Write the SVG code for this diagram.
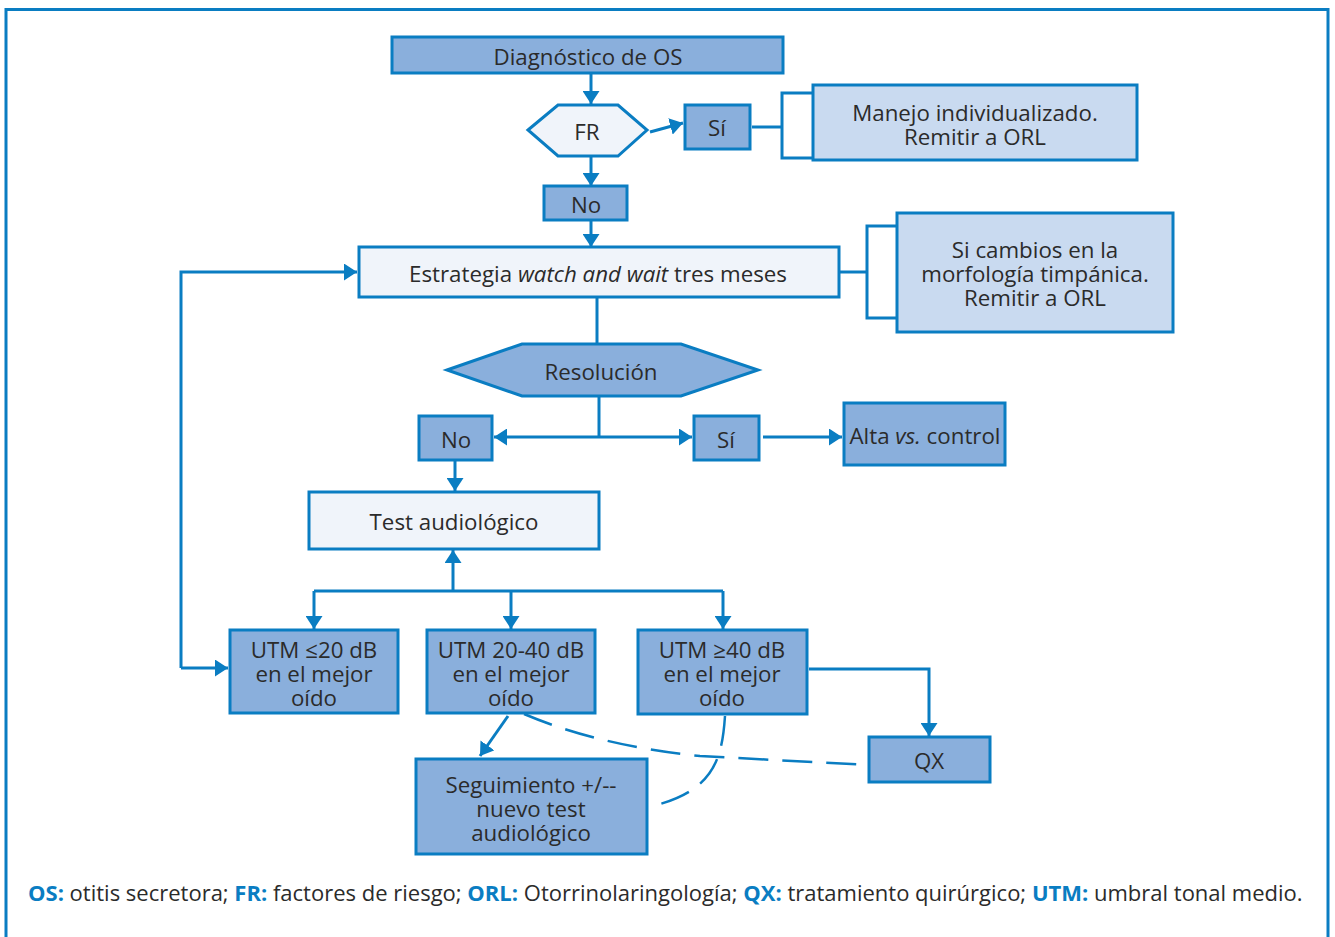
<svg xmlns="http://www.w3.org/2000/svg" width="1335" height="937" viewBox="0 0 1335 937">
<defs>
<style>
.dark{fill:#8aafdc;stroke:#0a7dc2;stroke-width:3}
.light{fill:#c9daf0;stroke:#0a7dc2;stroke-width:3}
.pale{fill:#f0f4fa;stroke:#0a7dc2;stroke-width:3}
.ln{fill:none;stroke:#0a7dc2;stroke-width:3}
.dash{fill:none;stroke:#0a7dc2;stroke-width:2.5;stroke-dasharray:30 14}
text{font-family:"Open Sans","Noto Sans",sans-serif;font-size:22.3px;fill:#2b2b2b;text-anchor:middle;dominant-baseline:central}
.leg{text-anchor:start;font-size:22px}
.b{fill:#0a7dc2;font-weight:bold}
</style>
<marker id="ah" markerUnits="userSpaceOnUse" markerWidth="13" markerHeight="17" refX="13" refY="8.5" orient="auto" viewBox="0 0 13 17">
<path d="M0,0 L13,8.5 L0,17 z" fill="#0a7dc2"/>
</marker>
</defs>
<rect x="6" y="9.5" width="1322" height="960" fill="none" stroke="#0a7dc2" stroke-width="3"/>
<g id="connectors">
<path class="ln" d="M591,74 V104" marker-end="url(#ah)"/>
<path class="ln" d="M650,132 L683,123" marker-end="url(#ah)"/>
<path class="ln" d="M752,127 H782"/>
<path class="ln" d="M813,93 H782 V158 H813"/>
<path class="ln" d="M591,156 V186" marker-end="url(#ah)"/>
<path class="ln" d="M591,220 V247" marker-end="url(#ah)"/>
<path class="ln" d="M839,272 H867"/>
<path class="ln" d="M897,226 H867 V318 H897"/>
<path class="ln" d="M597,297 V344"/>
<path class="ln" d="M599,397 V437"/>
<path class="ln" d="M599,437 H494" marker-end="url(#ah)"/>
<path class="ln" d="M599,437 H692" marker-end="url(#ah)"/>
<path class="ln" d="M763,437 H842" marker-end="url(#ah)"/>
<path class="ln" d="M455,460 V491" marker-end="url(#ah)"/>
<path class="ln" d="M453,591 V550" marker-end="url(#ah)"/>
<path class="ln" d="M314,591 H723"/>
<path class="ln" d="M314,591 V629" marker-end="url(#ah)"/>
<path class="ln" d="M511,591 V629" marker-end="url(#ah)"/>
<path class="ln" d="M723,591 V629" marker-end="url(#ah)"/>
<path class="ln" d="M809,669 H929 V736" marker-end="url(#ah)"/>
<path class="ln" d="M181,668 H228" marker-end="url(#ah)"/>
<path class="ln" d="M181,668 V272 H357" marker-end="url(#ah)"/>
<path class="ln" d="M508,716 L480,756" marker-end="url(#ah)"/>
<path class="dash" d="M524,714 Q600,746 700,756 L868,765"/>
<path class="dash" d="M725,716 C722,762 712,792 649,807"/>
</g>
<g id="diag"><rect class="dark" x="392" y="37" width="391" height="36"/><text x="588" y="56">Diagnóstico de OS</text></g>
<g id="fr"><polygon class="pale" points="528,130 558,105 618,105 647,130 618,156 558,156"/><text x="587" y="131">FR</text></g>
<g id="si1"><rect class="dark" x="685" y="105" width="65" height="44"/><text x="717" y="127">Sí</text></g>
<g id="manejo"><rect class="light" x="813" y="85" width="324" height="75"/><text x="975" y="112">Manejo individualizado.</text><text x="975" y="136">Remitir a ORL</text></g>
<g id="no1"><rect class="dark" x="544" y="186" width="83" height="34"/><text x="586" y="204">No</text></g>
<g id="estrategia"><rect class="pale" x="359" y="247" width="480" height="50"/><text x="598" y="273">Estrategia <tspan font-style="italic">watch and wait</tspan> tres meses</text></g>
<g id="sicambios"><rect class="light" x="897" y="213" width="276" height="119"/><text x="1035" y="249">Si cambios en la</text><text x="1035" y="273">morfología timpánica.</text><text x="1035" y="297">Remitir a ORL</text></g>
<g id="resolucion"><polygon class="dark" points="447,370 522,344 681,344 758,370 681,396 522,396"/><text x="601" y="371">Resolución</text></g>
<g id="no2"><rect class="dark" x="419" y="416" width="73" height="44"/><text x="456" y="439">No</text></g>
<g id="si2"><rect class="dark" x="694" y="416" width="65" height="44"/><text x="726" y="439">Sí</text></g>
<g id="alta"><rect class="dark" x="844" y="403" width="161" height="62"/><text x="925" y="435">Alta <tspan font-style="italic">vs.</tspan> control</text></g>
<g id="test"><rect class="pale" x="309" y="492" width="290" height="57"/><text x="454" y="521">Test audiológico</text></g>
<g id="utm20"><rect class="dark" x="230" y="630" width="168" height="83"/><text x="314" y="649">UTM ≤20 dB</text><text x="314" y="673">en el mejor</text><text x="314" y="697">oído</text></g>
<g id="utm2040"><rect class="dark" x="427" y="630" width="168" height="83"/><text x="511" y="649">UTM 20-40 dB</text><text x="511" y="673">en el mejor</text><text x="511" y="697">oído</text></g>
<g id="utm40"><rect class="dark" x="638" y="630" width="169" height="84"/><text x="722" y="649">UTM ≥40 dB</text><text x="722" y="673">en el mejor</text><text x="722" y="697">oído</text></g>
<g id="qx"><rect class="dark" x="869" y="737" width="121" height="45"/><text x="929" y="760">QX</text></g>
<g id="seguimiento"><rect class="dark" x="416" y="759" width="231" height="95"/><text x="531" y="784">Seguimiento +/--</text><text x="531" y="808">nuevo test</text><text x="531" y="832">audiológico</text></g>
<g id="legend"><text class="leg" x="28" y="892"><tspan class="b">OS:</tspan> otitis secretora; <tspan class="b">FR:</tspan> factores de riesgo; <tspan class="b">ORL:</tspan> Otorrinolaringología; <tspan class="b">QX:</tspan> tratamiento quirúrgico; <tspan class="b">UTM:</tspan> umbral tonal medio.</text></g>
</svg>
